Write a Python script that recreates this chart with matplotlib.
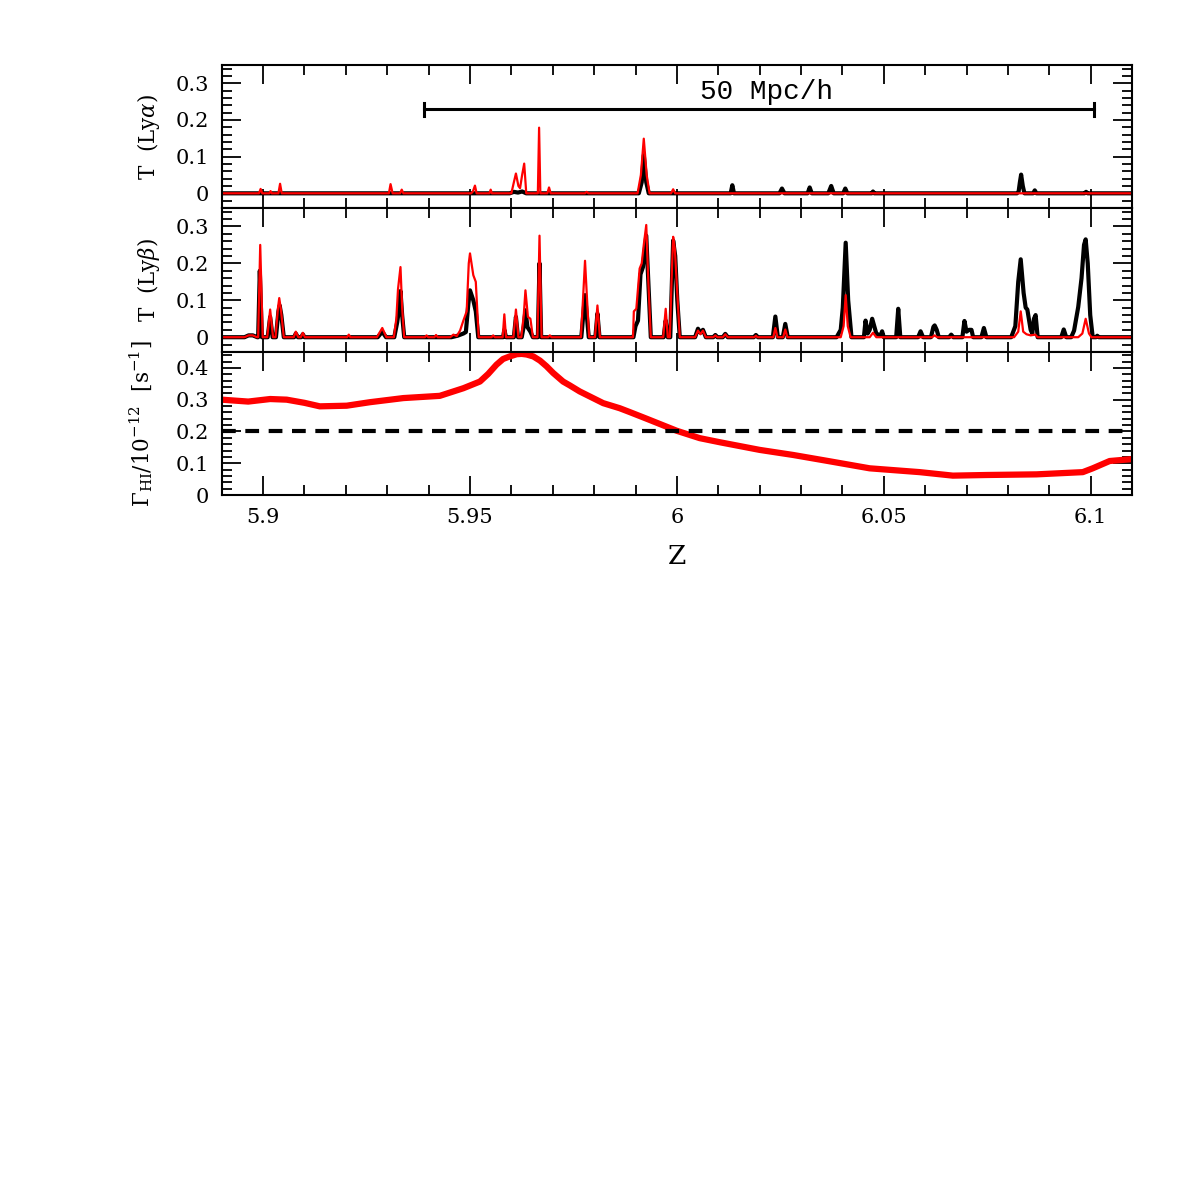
import numpy as np
import matplotlib
matplotlib.use('Agg')
import matplotlib.pyplot as plt
from matplotlib.ticker import MultipleLocator

plt.rcParams['font.family'] = ['DejaVu Serif']
plt.rcParams['mathtext.fontset'] = 'dejavuserif'

# Lyman alpha transmission (z, T)
lya_black = [(5.89, 0), (5.9596, 0), (5.9606, 0.004), (5.9616, 0.002), (5.9626, 0.005), (5.9636, 0),
             (5.9908, 0), (5.9915, 0.03), (5.9920, 0.104), (5.9926, 0.03), (5.9932, 0),
             (6.0130, 0), (6.0134, 0.022), (6.0138, 0), (6.0248, 0), (6.0254, 0.013), (6.0260, 0),
             (6.0316, 0), (6.0321, 0.016), (6.0326, 0), (6.0366, 0), (6.0373, 0.02), (6.0379, 0),
             (6.0402, 0), (6.0407, 0.013), (6.0412, 0), (6.0471, 0), (6.0474, 0.005), (6.0477, 0),
             (6.0822, 0), (6.0826, 0.005), (6.0829, 0.03), (6.0832, 0.051), (6.0836, 0.02), (6.0840, 0),
             (6.0861, 0), (6.0865, 0.008), (6.0869, 0), (6.0985, 0), (6.0989, 0.004), (6.0993, 0),
             (6.11, 0)]
lya_red = [(5.89, 0), (5.8990, 0), (5.8994, 0.012), (5.8998, 0), (5.9015, 0), (5.9018, 0.006), (5.9021, 0),
           (5.9037, 0), (5.9041, 0.026), (5.9045, 0), (5.9304, 0), (5.9308, 0.025), (5.9313, 0),
           (5.9331, 0), (5.9335, 0.01), (5.9339, 0), (5.9503, 0), (5.9507, 0.005), (5.9512, 0.021),
           (5.9516, 0), (5.9547, 0), (5.9550, 0.01), (5.9553, 0), (5.9600, 0), (5.9606, 0.03),
           (5.9611, 0.054), (5.9617, 0.02), (5.9621, 0.014), (5.9626, 0.05), (5.9631, 0.081), (5.9636, 0),
           (5.9664, 0), (5.9667, 0.179), (5.9670, 0), (5.9687, 0), (5.9691, 0.016), (5.9695, 0),
           (5.9778, 0), (5.9782, 0.004), (5.9786, 0), (5.9905, 0), (5.9913, 0.05), (5.9920, 0.149),
           (5.9927, 0.05), (5.9934, 0), (5.9986, 0), (5.9991, 0.011), (5.9996, 0), (6.11, 0)]

# Lyman beta transmission (z, T)
lyb_black = [(5.89, 0), (5.8955, 0), (5.8965, 0.005), (5.8975, 0.005), (5.8986, 0),
             (5.8988, 0), (5.8992, 0.18), (5.8997, 0), (5.9011, 0), (5.9017, 0.055), (5.9023, 0),
             (5.9031, 0), (5.9037, 0.07), (5.9040, 0.086), (5.9044, 0.06), (5.9050, 0),
             (5.9075, 0), (5.9079, 0.01), (5.9084, 0), (5.9092, 0), (5.9096, 0.008), (5.9100, 0),
             (5.9277, 0), (5.9288, 0.015), (5.9297, 0),
             (5.9317, 0), (5.9324, 0.04), (5.9329, 0.08), (5.9332, 0.125), (5.9336, 0.06), (5.9341, 0),
             (5.9455, 0), (5.9470, 0.004), (5.9484, 0.01), (5.9490, 0.014), (5.9496, 0.09), (5.9500, 0.127),
             (5.9508, 0.1), (5.9514, 0.07), (5.9520, 0),
             (5.9580, 0), (5.9583, 0.02), (5.9587, 0), (5.9606, 0), (5.9611, 0.055), (5.9616, 0),
             (5.9625, 0), (5.9630, 0.03), (5.9634, 0.073), (5.9639, 0.027), (5.9646, 0.015), (5.9652, 0),
             (5.9664, 0), (5.9668, 0.2), (5.9672, 0), (5.9769, 0), (5.9778, 0.114), (5.9787, 0),
             (5.9803, 0), (5.9808, 0.064), (5.9813, 0),
             (5.9895, 0), (5.9900, 0.03), (5.9906, 0.045), (5.9912, 0.17), (5.9918, 0.19), (5.9926, 0.275),
             (5.9931, 0.15), (5.9937, 0), (5.9968, 0), (5.9973, 0.045), (5.9978, 0),
             (5.9984, 0), (5.9991, 0.262), (5.9996, 0.22), (6.0001, 0.1), (6.0007, 0),
             (6.0044, 0), (6.0051, 0.023), (6.0057, 0.012), (6.0063, 0.02), (6.0070, 0),
             (6.0088, 0), (6.0093, 0.006), (6.0098, 0), (6.0111, 0), (6.0117, 0.009), (6.0123, 0),
             (6.0186, 0), (6.0191, 0.006), (6.0196, 0), (6.0232, 0), (6.0238, 0.056), (6.0244, 0),
             (6.0256, 0), (6.0262, 0.036), (6.0268, 0),
             (6.0386, 0), (6.0396, 0.02), (6.0401, 0.08), (6.0408, 0.256), (6.0414, 0.1), (6.0422, 0),
             (6.0452, 0), (6.0456, 0.045), (6.0461, 0.01), (6.0466, 0.02), (6.0472, 0.05), (6.0477, 0.03),
             (6.0482, 0.01), (6.0492, 0.004), (6.0496, 0.016), (6.0500, 0),
             (6.0530, 0), (6.0535, 0.077), (6.0540, 0), (6.0583, 0), (6.0589, 0.016), (6.0595, 0),
             (6.0614, 0), (6.0620, 0.028), (6.0623, 0.032), (6.0628, 0.02), (6.0633, 0),
             (6.0658, 0), (6.0663, 0.007), (6.0668, 0),
             (6.0690, 0), (6.0695, 0.044), (6.0700, 0.015), (6.0706, 0.02), (6.0712, 0.02), (6.0716, 0),
             (6.0736, 0), (6.0742, 0.025), (6.0748, 0),
             (6.0808, 0), (6.0818, 0.03), (6.0825, 0.15), (6.0831, 0.211), (6.0838, 0.12), (6.0843, 0.08),
             (6.0847, 0.075), (6.0855, 0.02), (6.0859, 0.01), (6.0863, 0.05), (6.0867, 0.06), (6.0872, 0),
             (6.0929, 0), (6.0935, 0.021), (6.0941, 0),
             (6.0953, 0), (6.0960, 0.018), (6.0965, 0.05), (6.0970, 0.082), (6.0978, 0.16), (6.0984, 0.25),
             (6.0988, 0.265), (6.0993, 0.2), (6.0999, 0.06), (6.1005, 0),
             (6.1013, 0), (6.1016, 0.004), (6.1020, 0), (6.11, 0)]
lyb_red = [(5.89, 0), (5.8955, 0), (5.8965, 0.005), (5.8975, 0.005), (5.8985, 0),
           (5.8988, 0), (5.8993, 0.25), (5.8999, 0), (5.9010, 0), (5.9017, 0.075), (5.9024, 0),
           (5.9030, 0), (5.9036, 0.08), (5.9039, 0.106), (5.9043, 0.075), (5.9050, 0),
           (5.9074, 0), (5.9079, 0.015), (5.9085, 0), (5.9091, 0), (5.9096, 0.012), (5.9101, 0),
           (5.9203, 0), (5.9207, 0.007), (5.9211, 0), (5.9275, 0), (5.9288, 0.025), (5.9298, 0),
           (5.9316, 0), (5.9322, 0.05), (5.9326, 0.13), (5.9332, 0.19), (5.9336, 0.08), (5.9341, 0),
           (5.9391, 0), (5.9395, 0.005), (5.9399, 0), (5.9414, 0), (5.9418, 0.006), (5.9422, 0),
           (5.9452, 0), (5.9460, 0.007), (5.9468, 0.003), (5.9476, 0.018), (5.9484, 0.045), (5.9492, 0.07),
           (5.9497, 0.2), (5.9500, 0.227), (5.9508, 0.168), (5.9514, 0.15), (5.9521, 0),
           (5.9552, 0), (5.9556, 0.005), (5.9560, 0), (5.9579, 0), (5.9583, 0.062), (5.9587, 0),
           (5.9605, 0), (5.9611, 0.075), (5.9617, 0),
           (5.9624, 0), (5.9630, 0.06), (5.9634, 0.127), (5.9640, 0.055), (5.9646, 0.05), (5.9652, 0),
           (5.9663, 0), (5.9668, 0.275), (5.9673, 0), (5.9689, 0), (5.9693, 0.005), (5.9697, 0),
           (5.9768, 0), (5.9773, 0.1), (5.9778, 0.207), (5.9783, 0.1), (5.9788, 0),
           (5.9802, 0), (5.9808, 0.086), (5.9814, 0),
           (5.9894, 0), (5.9896, 0.07), (5.9902, 0.077), (5.9910, 0.186), (5.9915, 0.2), (5.9920, 0.25),
           (5.9926, 0.304), (5.9931, 0.15), (5.9937, 0), (5.9967, 0), (5.9973, 0.077), (5.9978, 0),
           (5.9983, 0), (5.9987, 0.15), (5.9991, 0.272), (5.9995, 0.24), (6.0001, 0.12), (6.0007, 0),
           (6.0044, 0), (6.0051, 0.018), (6.0057, 0.008), (6.0063, 0.018), (6.0070, 0),
           (6.0088, 0), (6.0093, 0.005), (6.0098, 0), (6.0111, 0), (6.0117, 0.008), (6.0123, 0),
           (6.0187, 0), (6.0191, 0.004), (6.0195, 0), (6.0233, 0), (6.0238, 0.025), (6.0243, 0),
           (6.0257, 0), (6.0262, 0.021), (6.0267, 0),
           (6.0396, 0), (6.0403, 0.03), (6.0408, 0.114), (6.0413, 0.03), (6.0420, 0),
           (6.0466, 0), (6.0474, 0.012), (6.0482, 0), (6.0617, 0), (6.0623, 0.005), (6.0629, 0),
           (6.0815, 0), (6.0825, 0.015), (6.0831, 0.07), (6.0837, 0.015), (6.0845, 0.008), (6.0855, 0.005),
           (6.0866, 0.007), (6.0872, 0),
           (6.0970, 0), (6.0980, 0.01), (6.0988, 0.05), (6.0996, 0.01), (6.1002, 0), (6.11, 0)]

# photoionisation rate
gamma_z = [5.89, 5.8964, 5.9017, 5.9057, 5.9100, 5.9137, 5.9202, 5.9258, 5.9339, 5.9427, 5.9484,
           5.9524, 5.9544, 5.9564, 5.9580, 5.9596, 5.9613, 5.9625, 5.9637, 5.9653, 5.9669, 5.9685,
           5.9701, 5.9725, 5.9741, 5.9765, 5.9822, 5.9862, 5.9886, 5.9927,
           6.0, 6.0055, 6.0104, 6.02, 6.0281, 6.0361, 6.0466, 6.0587, 6.0667, 6.0748, 6.0869,
           6.0981, 6.1005, 6.1046, 6.11]
gamma_val = [0.30, 0.294, 0.302, 0.30, 0.29, 0.279, 0.281, 0.292, 0.305, 0.312, 0.336,
             0.357, 0.381, 0.41, 0.428, 0.436, 0.443, 0.444, 0.442, 0.436, 0.423, 0.405,
             0.384, 0.357, 0.345, 0.326, 0.289, 0.273, 0.261, 0.24,
             0.202, 0.179, 0.166, 0.142, 0.126, 0.108, 0.084, 0.072, 0.061, 0.063, 0.065,
             0.072, 0.084, 0.107, 0.113]
gamma_ref = 0.2

# scale bar
bar_z = [5.939, 6.1007]
bar_y = 0.229
bar_label = '50 Mpc/h'

fig = plt.figure(figsize=(11.96, 11.96), dpi=100)
left, width = 0.1854, 0.7611
ax1 = fig.add_axes([left, 0.8261, width, 0.1196])
ax2 = fig.add_axes([left, 0.7057, width, 0.1204])
ax3 = fig.add_axes([left, 0.5861, width, 0.1196])

for black, red, ax in [(lya_black, lya_red, ax1), (lyb_black, lyb_red, ax2)]:
    b = np.array(black)
    r = np.array(red)
    ax.plot(b[:, 0], b[:, 1], color='black', lw=3.0, solid_joinstyle='round')
    ax.plot(r[:, 0], r[:, 1], color='red', lw=1.6, solid_joinstyle='round')
    ax.set_ylim(-0.04, 0.35)

ax1.plot(bar_z, [bar_y, bar_y], color='black', lw=2.2)
for zz in bar_z:
    ax1.plot([zz, zz], [bar_y - 0.018, bar_y + 0.018], color='black', lw=2.2)
ax1.text(6.0216, 0.256, bar_label, ha='center', va='baseline',
         fontsize=20, family='Liberation Mono')

ax3.plot(gamma_z, gamma_val, color='red', lw=4.5, solid_joinstyle='round')
ax3.plot([5.89, 6.11], [gamma_ref, gamma_ref], color='black', lw=3.0,
         linestyle=(0, (3.3, 2.3)))
ax3.set_ylim(0, 0.45)

for ax in (ax1, ax2, ax3):
    ax.set_xlim(5.89, 6.11)
    ax.xaxis.set_major_locator(MultipleLocator(0.05))
    ax.xaxis.set_minor_locator(MultipleLocator(0.01))
    ax.yaxis.set_major_locator(MultipleLocator(0.1))
    ax.yaxis.set_minor_locator(MultipleLocator(0.02))
    ax.tick_params(which='both', direction='in', top=True, right=True, width=1.3,
                   labelsize=15, pad=9)
    ax.tick_params(which='major', length=14)
    ax.tick_params(which='minor', length=7)
    for s in ax.spines.values():
        s.set_linewidth(1.5)
    ax.yaxis.set_major_formatter(plt.FuncFormatter(lambda v, p: f'{v:g}'))

ax1.tick_params(labelbottom=False)
ax2.tick_params(labelbottom=False)
ax3.xaxis.set_major_formatter(plt.FuncFormatter(lambda v, p: f'{v:g}'))

ax1.set_ylabel(r'T  (Ly$\alpha$)', fontsize=15.5)
ax2.set_ylabel(r'T  (Ly$\beta$)', fontsize=15.5)
ax3.set_ylabel(r'$\Gamma_{\rm HI}/10^{-12}$  [s$^{-1}$]', fontsize=15.5)
ax1.yaxis.set_label_coords(-0.066, 0.5)
ax2.yaxis.set_label_coords(-0.066, 0.5)
ax3.yaxis.set_label_coords(-0.073, 0.5)
ax3.set_xlabel('Z', fontsize=19)
ax3.xaxis.set_label_coords(0.5, -0.34)

fig.savefig('out.png', dpi=100)
